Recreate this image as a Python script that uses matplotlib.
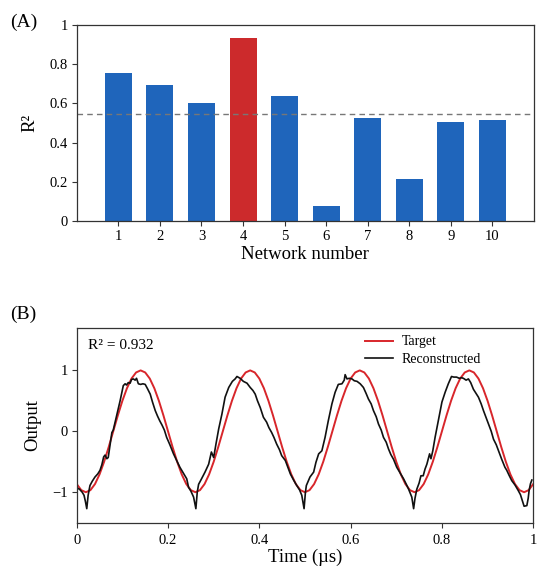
import matplotlib
matplotlib.use("Agg")
import matplotlib.pyplot as plt

plt.rcParams['font.family'] = ['Liberation Serif', 'DejaVu Serif']

# (A) R^2 of each network
networks = [1, 2, 3, 4, 5, 6, 7, 8, 9, 10]
r2 = [0.756, 0.695, 0.602, 0.932, 0.639, 0.075, 0.525, 0.212, 0.505, 0.514]
best = 4
threshold = 0.546

# (B) target signal, sampled every 0.01 us
target_t = [i / 100 for i in range(101)]
target_v = [
    -0.866, -0.966, -1.0, -0.966, -0.866, -0.707, -0.5, -0.259, 0.0, 0.259,
    0.5, 0.707, 0.866, 0.966, 1.0, 0.966, 0.866, 0.707, 0.5, 0.259,
    0.0, -0.259, -0.5, -0.707, -0.866, -0.966, -1.0, -0.966, -0.866, -0.707,
    -0.5, -0.259, 0.0, 0.259, 0.5, 0.707, 0.866, 0.966, 1.0, 0.966,
    0.866, 0.707, 0.5, 0.259, 0.0, -0.259, -0.5, -0.707, -0.866, -0.966,
    -1.0, -0.966, -0.866, -0.707, -0.5, -0.259, 0.0, 0.259, 0.5, 0.707,
    0.866, 0.966, 1.0, 0.966, 0.866, 0.707, 0.5, 0.259, 0.0, -0.259,
    -0.5, -0.707, -0.866, -0.966, -1.0, -0.966, -0.866, -0.707, -0.5, -0.259,
    0.0, 0.259, 0.5, 0.707, 0.866, 0.966, 1.0, 0.966, 0.866, 0.707,
    0.5, 0.259, 0.0, -0.259, -0.5, -0.707, -0.866, -0.966, -1.0, -0.966,
    -0.866,
]

# (B) reconstructed output
rec_t = [
    0.000, 0.006, 0.012, 0.016, 0.019, 0.022, 0.025, 0.029, 0.034, 0.040,
    0.046, 0.051, 0.055, 0.059, 0.062, 0.066, 0.069, 0.073, 0.077, 0.080,
    0.084, 0.088, 0.095, 0.100, 0.102, 0.106, 0.109, 0.113, 0.117, 0.120,
    0.124, 0.128, 0.131, 0.135, 0.140, 0.145, 0.150, 0.155, 0.161, 0.166,
    0.172, 0.177, 0.182, 0.187, 0.192, 0.197, 0.204, 0.212, 0.219, 0.226,
    0.233, 0.241, 0.245, 0.250, 0.256, 0.261, 0.264, 0.267, 0.272, 0.281,
    0.289, 0.295, 0.300, 0.305, 0.311, 0.318, 0.325, 0.333, 0.341, 0.347,
    0.351, 0.358, 0.365, 0.373, 0.380, 0.386, 0.391, 0.396, 0.402, 0.409,
    0.416, 0.421, 0.427, 0.432, 0.438, 0.444, 0.449, 0.457, 0.464, 0.468,
    0.475, 0.482, 0.488, 0.493, 0.498, 0.501, 0.503, 0.507, 0.511, 0.519,
    0.524, 0.530, 0.537, 0.544, 0.551, 0.559, 0.566, 0.573, 0.581, 0.586,
    0.588, 0.592, 0.597, 0.603, 0.608, 0.614, 0.621, 0.628, 0.634, 0.639,
    0.645, 0.650, 0.656, 0.661, 0.667, 0.672, 0.678, 0.683, 0.688, 0.694,
    0.701, 0.708, 0.716, 0.722, 0.727, 0.734, 0.738, 0.741, 0.745, 0.750,
    0.754, 0.759, 0.763, 0.767, 0.773, 0.776, 0.780, 0.785, 0.792, 0.800,
    0.807, 0.814, 0.821, 0.826, 0.832, 0.838, 0.843, 0.847, 0.853, 0.858,
    0.863, 0.869, 0.875, 0.880, 0.886, 0.891, 0.897, 0.902, 0.908, 0.913,
    0.919, 0.924, 0.931, 0.938, 0.942, 0.947, 0.953, 0.960, 0.967, 0.972,
    0.975, 0.980, 0.986, 0.989, 0.991, 0.994, 0.997,
]
rec_v = [
    -0.93, -0.95, -1.00, -1.05, -1.15, -1.27, -1.05, -0.89, -0.82, -0.75,
    -0.70, -0.64, -0.55, -0.42, -0.39, -0.45, -0.43, -0.22, -0.02, 0.02,
    0.15, 0.28, 0.50, 0.68, 0.75, 0.78, 0.76, 0.80, 0.79, 0.85,
    0.86, 0.84, 0.87, 0.78, 0.77, 0.78, 0.77, 0.70, 0.61, 0.48,
    0.34, 0.25, 0.17, 0.10, 0.02, -0.10, -0.22, -0.37, -0.48, -0.59,
    -0.68, -0.78, -0.92, -0.98, -1.08, -1.27, -1.00, -0.87, -0.80, -0.67,
    -0.54, -0.34, -0.43, -0.21, 0.04, 0.28, 0.56, 0.72, 0.82, 0.86,
    0.90, 0.87, 0.82, 0.79, 0.72, 0.67, 0.61, 0.50, 0.39, 0.23,
    0.15, 0.06, -0.02, -0.10, -0.21, -0.30, -0.40, -0.48, -0.62, -0.70,
    -0.80, -0.89, -0.96, -1.05, -1.27, -1.00, -0.89, -0.82, -0.75, -0.67,
    -0.51, -0.37, -0.32, -0.10, 0.17, 0.45, 0.64, 0.77, 0.78, 0.84,
    0.93, 0.86, 0.87, 0.86, 0.83, 0.82, 0.78, 0.72, 0.62, 0.53,
    0.45, 0.34, 0.24, 0.12, 0.02, -0.10, -0.18, -0.29, -0.38, -0.46,
    -0.59, -0.68, -0.78, -0.87, -0.95, -1.08, -1.27, -1.10, -0.95, -0.85,
    -0.73, -0.73, -0.62, -0.54, -0.37, -0.45, -0.32, -0.10, 0.17, 0.48,
    0.64, 0.78, 0.90, 0.89, 0.89, 0.87, 0.88, 0.87, 0.84, 0.86,
    0.80, 0.69, 0.62, 0.56, 0.45, 0.34, 0.22, 0.12, 0.00, -0.13,
    -0.22, -0.32, -0.46, -0.59, -0.64, -0.72, -0.81, -0.88, -0.97, -1.04,
    -1.11, -1.23, -1.22, -1.10, -0.97, -0.86, -0.80,
]

blue = '#1f65bb'
red_bar = '#cc2a2c'
red_line = '#d8262b'
spine_col = '#333333'

fig = plt.figure(figsize=(5.5, 5.75), dpi=100)
ax1 = fig.add_axes([0.1395, 0.6157, 0.8315, 0.341])
ax2 = fig.add_axes([0.1395, 0.091, 0.830, 0.339])

for ax in (ax1, ax2):
    for s in ax.spines.values():
        s.set_color(spine_col)
        s.set_linewidth(0.9)
    ax.tick_params(labelsize=10.5, length=3.5, width=0.8, color=spine_col, pad=3)
ax2.tick_params(axis='x', pad=5)

# ---- panel A
colors = [red_bar if n == best else blue for n in networks]
ax1.bar(networks, r2, width=0.65, color=colors)
ax1.axhline(threshold, color='#777777', lw=1.0, ls=(0, (4, 3)))
ax1.set_xlim(0, 11)
ax1.set_ylim(0, 1)
ax1.set_xticks(networks)
ax1.set_yticks([0, 0.2, 0.4, 0.6, 0.8, 1])
ax1.set_yticklabels(['0', '0.2', '0.4', '0.6', '0.8', '1'])
ax1.set_xlabel('Network number', fontsize=13.5, labelpad=2)
ax1.set_ylabel('R²', fontsize=13.5, labelpad=8)
fig.text(0.019, 0.962, '(A)', fontsize=14, va='center', ha='left')

# ---- panel B
ax2.plot(target_t, target_v, color=red_line, lw=1.4, label='Target')
ax2.plot(rec_t, rec_v, color='#111111', lw=1.2, label='Reconstructed')
ax2.set_xlim(0, 1)
ax2.set_ylim(-1.5, 1.7)
ax2.set_xticks([0, 0.2, 0.4, 0.6, 0.8, 1])
ax2.set_xticklabels(['0', '0.2', '0.4', '0.6', '0.8', '1'])
ax2.set_yticks([-1, 0, 1])
ax2.set_yticklabels(['\u22121', '0', '1'])
ax2.set_xlabel('Time (\u00b5s)', fontsize=13.5, labelpad=1)
ax2.set_ylabel('Output', fontsize=13.5, labelpad=8)
ax2.text(0.024, 0.91, 'R² = 0.932', transform=ax2.transAxes, fontsize=11, va='center')
ax2.legend(loc='upper right', bbox_to_anchor=(0.902, 1.0), frameon=False,
           fontsize=10, handlelength=2.0, handletextpad=0.6,
           labelspacing=0.35, borderaxespad=0.15)
fig.text(0.019, 0.454, '(B)', fontsize=14, va='center', ha='left')

fig.savefig('out.png', dpi=100)
